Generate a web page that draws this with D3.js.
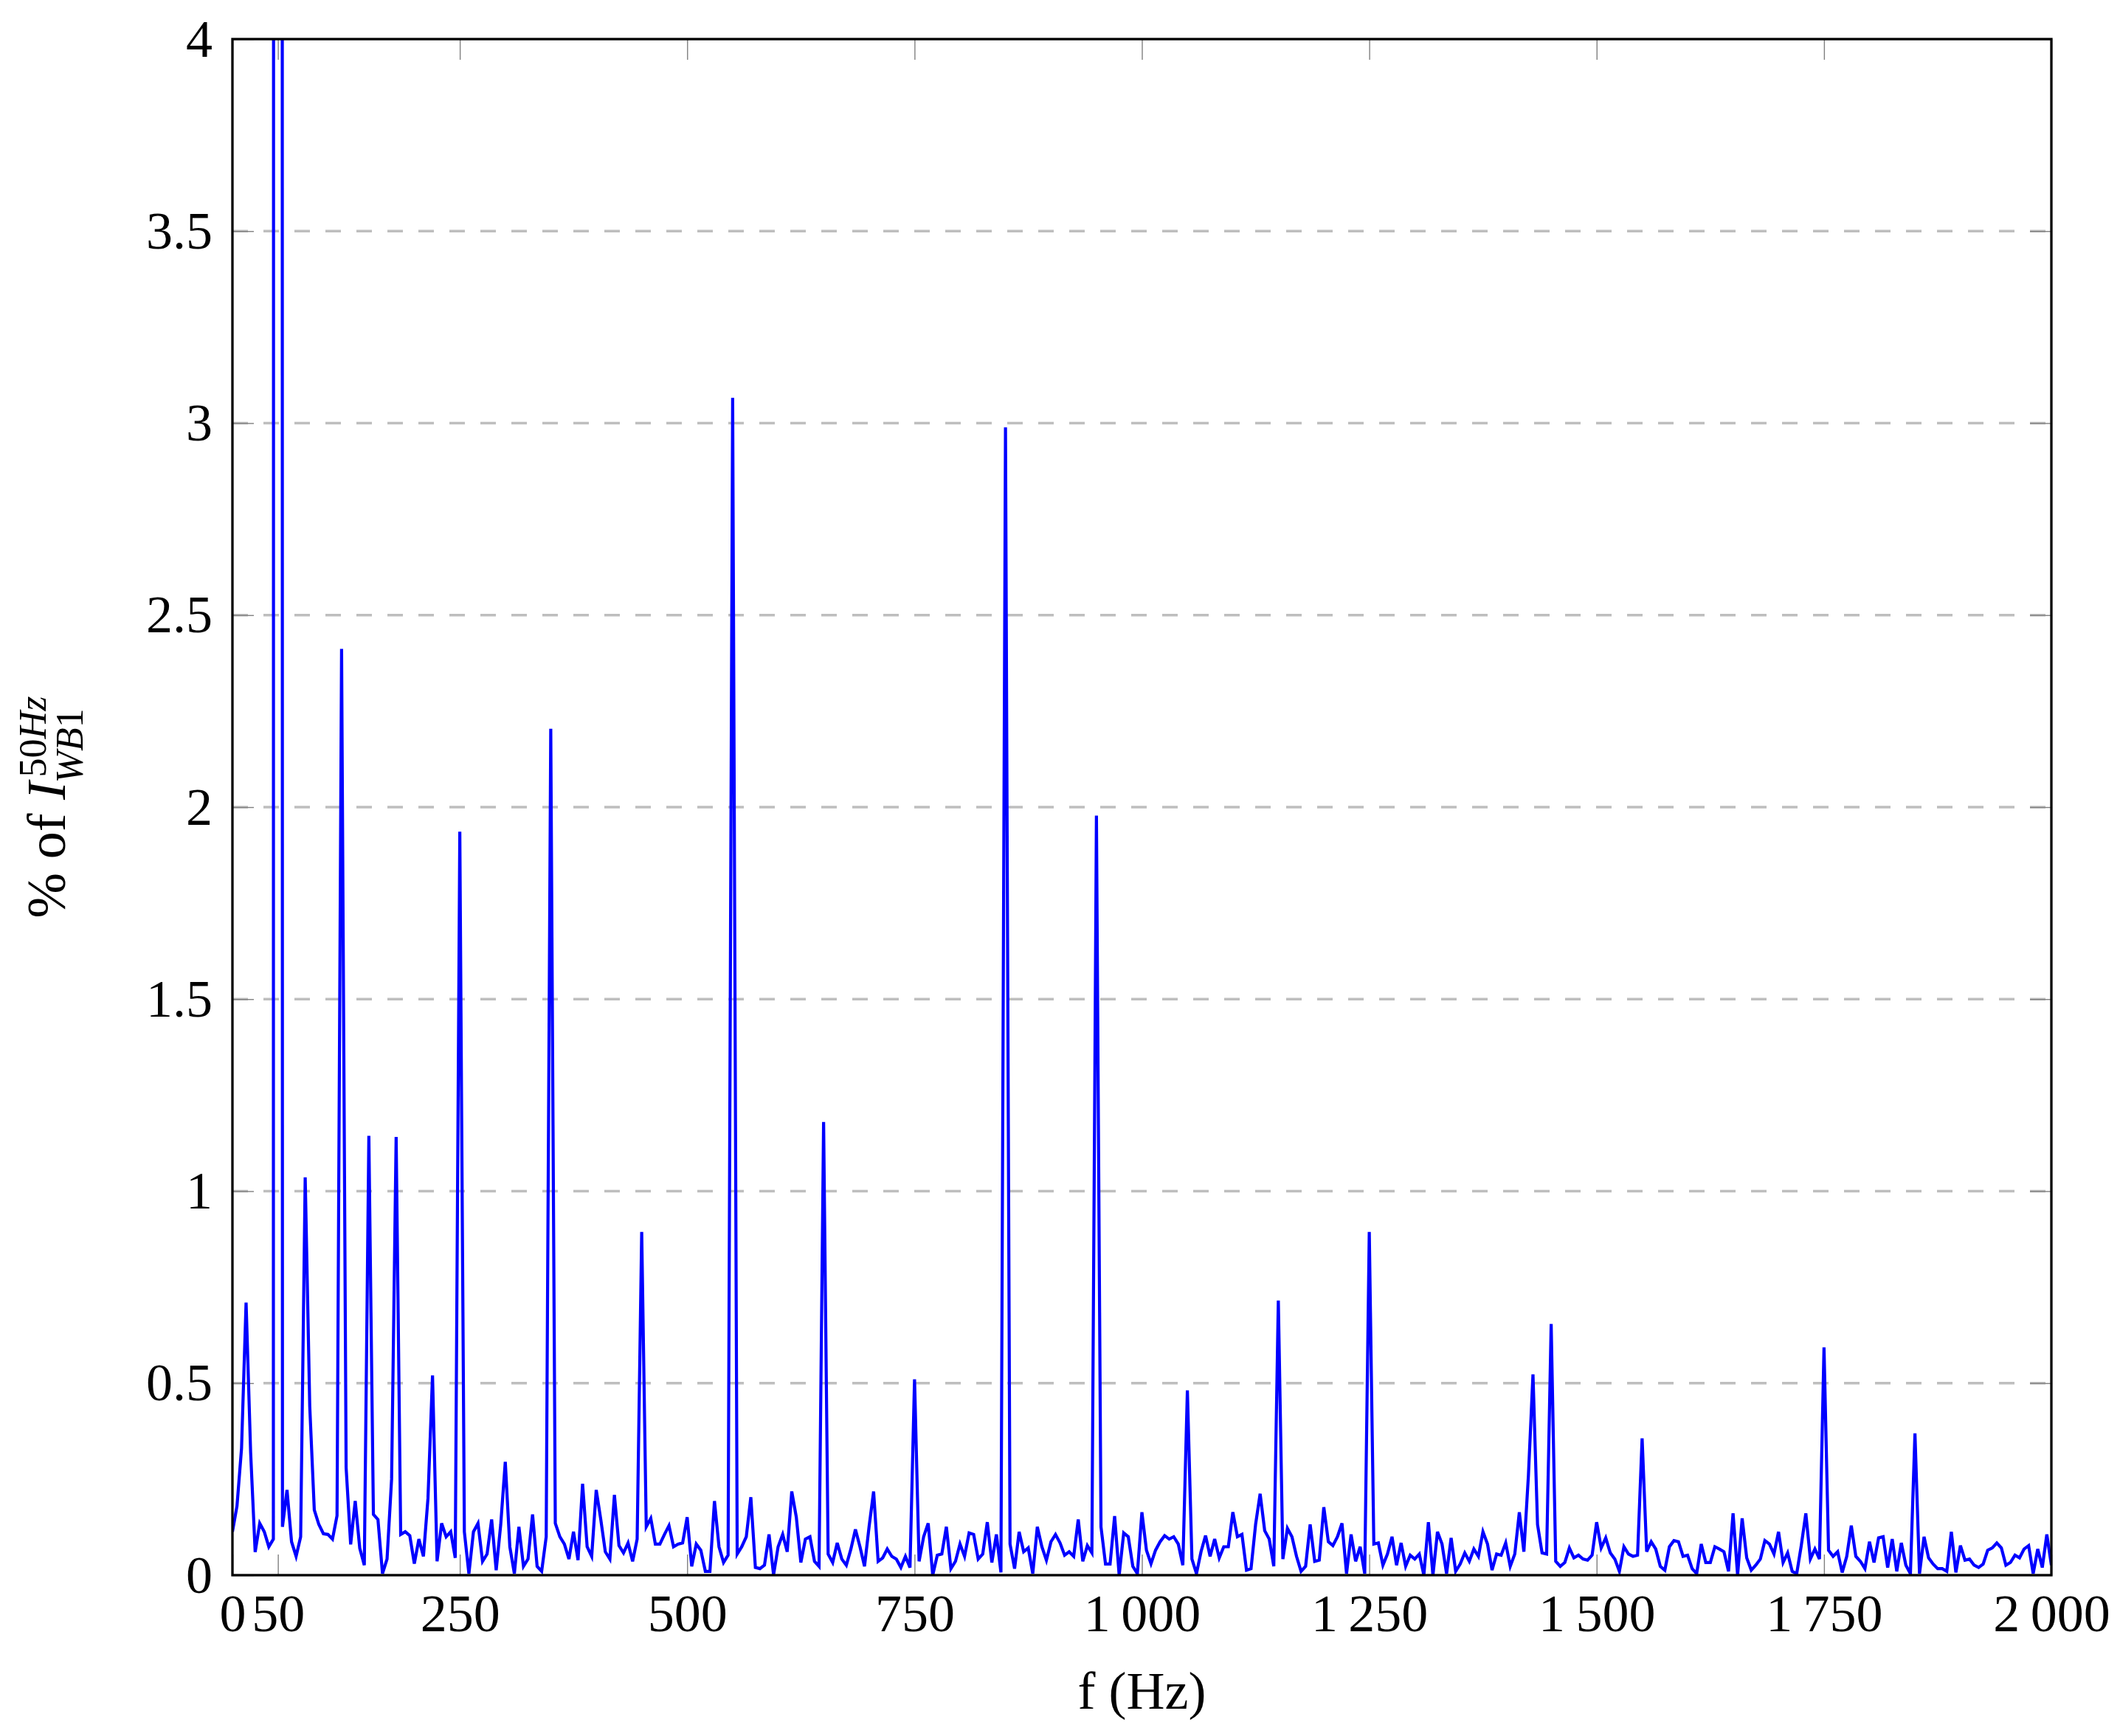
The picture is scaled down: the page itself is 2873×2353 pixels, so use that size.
<!DOCTYPE html>
<html><head><meta charset="utf-8">
<script src="https://cdn.jsdelivr.net/npm/d3@7"></script>
<style>
html,body{margin:0;padding:0;background:#fff;}
svg{display:block;}
text{font-family:"Liberation Serif","Times New Roman",serif;fill:#000;}
</style></head><body>
<svg id="chart" width="2873" height="2353"></svg>
<script>
// ---- data ----
const freqStep = 5; // Hz between samples, starting at 0 Hz
const amplitude = [
0.113,0.18,0.33,0.71,0.32,0.06,0.135,0.113,0.074,0.094, 100,0.126,0.222,0.087,0.049,0.1,1.036,0.44,0.17,0.132,
0.108,0.106,0.094,0.155,2.412,0.28,0.08,0.193,0.07,0.026, 1.144,0.158,0.145,0.004,0.042,0.25,1.141,0.106,0.113,0.103,
0.03,0.094,0.049,0.2,0.52,0.036,0.135,0.1,0.113,0.045, 1.936,0.113,0.004,0.113,0.135,0.036,0.055,0.145,0.013,0.132,
0.295,0.074,0.004,0.126,0.023,0.042,0.158,0.023,0.01,0.1, 2.204,0.135,0.1,0.081,0.042,0.113,0.039,0.238,0.074,0.049,
0.222,0.145,0.061,0.042,0.209,0.077,0.058,0.084,0.036,0.094, 0.894,0.126,0.148,0.081,0.081,0.106,0.129,0.074,0.081,0.084,
0.151,0.023,0.081,0.065,0.01,0.01,0.193,0.074,0.033,0.052, 3.066,0.055,0.074,0.1,0.203,0.02,0.017,0.026,0.106,0.001,
0.074,0.106,0.061,0.218,0.151,0.033,0.094,0.1,0.036,0.023, 1.18,0.055,0.033,0.084,0.042,0.026,0.068,0.119,0.074,0.023,
0.126,0.218,0.036,0.045,0.068,0.049,0.042,0.02,0.049,0.02, 0.51,0.036,0.1,0.135,0.0,0.052,0.055,0.126,0.017,0.036,
0.081,0.049,0.11,0.106,0.042,0.055,0.138,0.033,0.106,0.007, 2.989,0.081,0.017,0.113,0.061,0.071,0.004,0.126,0.074,0.039,
0.087,0.106,0.084,0.052,0.061,0.049,0.145,0.036,0.077,0.058, 1.978,0.126,0.029,0.029,0.154,0.0,0.11,0.1,0.023,0.004,
0.164,0.065,0.03,0.065,0.087,0.103,0.094,0.1,0.081,0.026, 0.481,0.042,0.004,0.061,0.103,0.049,0.094,0.045,0.074,0.074,
0.164,0.1,0.106,0.013,0.017,0.132,0.212,0.116,0.094,0.023, 0.715,0.042,0.122,0.1,0.049,0.01,0.023,0.132,0.036,0.039,
0.177,0.087,0.077,0.1,0.135,0.004,0.106,0.036,0.074,0.004, 0.894,0.081,0.084,0.026,0.055,0.1,0.026,0.084,0.023,0.052,
0.042,0.055,0.0,0.138,0.0,0.113,0.081,0.004,0.097,0.01, 0.029,0.058,0.036,0.068,0.049,0.113,0.081,0.013,0.055,0.052,
0.084,0.023,0.055,0.164,0.061,0.26,0.523,0.132,0.058,0.055, 0.654,0.036,0.023,0.033,0.071,0.045,0.052,0.042,0.039,0.052,
0.138,0.071,0.097,0.058,0.042,0.01,0.074,0.055,0.049,0.052, 0.356,0.061,0.087,0.068,0.023,0.013,0.074,0.09,0.087,0.049,
0.052,0.017,0.004,0.081,0.033,0.033,0.074,0.068,0.061,0.01, 0.161,0.0,0.148,0.045,0.013,0.026,0.042,0.09,0.081,0.055,
0.113,0.033,0.058,0.01,0.004,0.077,0.161,0.042,0.068,0.042, 0.593,0.065,0.049,0.061,0.007,0.049,0.129,0.049,0.036,0.017,
0.087,0.033,0.097,0.1,0.02,0.094,0.01,0.084,0.026,0.004, 0.369,0.004,0.1,0.045,0.029,0.017,0.017,0.01,0.113,0.007,
0.077,0.039,0.042,0.026,0.02,0.029,0.065,0.071,0.084,0.071, 0.026,0.033,0.052,0.045,0.068,0.077,0.004,0.068,0.02,0.106,
0.026
];
const xTickValues = [0, 50, 250, 500, 750, 1000, 1250, 1500, 1750, 2000];
const yTickValues = [0, 0.5, 1, 1.5, 2, 2.5, 3, 3.5, 4];
const yGridValues = [0.5, 1, 1.5, 2, 2.5, 3, 3.5];
const xDomain = [0, 2000];
const yDomain = [0, 4];
const xLabelText = "f (Hz)";

// ---- layout ----
const box = {left: 315, right: 2780, top: 53, bottom: 2135};
const svg = d3.select("#chart");
const x = d3.scaleLinear().domain(xDomain).range([box.left, box.right]);
const y = d3.scaleLinear().domain(yDomain).range([box.bottom, box.top]);
const series = amplitude.map((v, i) => ({f: i * freqStep, v}));

svg.append("rect").attr("width", 2873).attr("height", 2353).attr("fill", "#fff");

svg.append("defs").append("clipPath").attr("id", "plotclip")
  .append("rect").attr("x", box.left).attr("y", box.top)
  .attr("width", box.right - box.left).attr("height", box.bottom - box.top);

// grid
svg.append("g").selectAll("line").data(yGridValues).join("line")
  .attr("x1", box.left).attr("x2", box.right)
  .attr("y1", d => y(d)).attr("y2", d => y(d))
  .attr("stroke", "#bebebe").attr("stroke-width", 3.6)
  .attr("stroke-dasharray", "21 21");

// ticks (inside, gray)
const fmtX = d => d >= 1000 ? Math.floor(d / 1000) + "\u2009" + String(d % 1000).padStart(3, "0") : String(d);
const styleAxis = g => {
  g.select(".domain").remove();
  g.selectAll(".tick line").attr("stroke", "#808080").attr("stroke-width", 1.4);
  g.selectAll(".tick text").attr("font-size", 72).attr("font-family", '"Liberation Serif", serif').attr("fill", "#000");
};
svg.append("g").attr("transform", `translate(0,${box.bottom})`)
  .call(d3.axisBottom(x).tickValues(xTickValues).tickFormat(fmtX).tickSizeInner(-28).tickSizeOuter(0).tickPadding(25))
  .call(styleAxis);
svg.append("g").attr("transform", `translate(0,${box.top})`)
  .call(d3.axisTop(x).tickValues(xTickValues).tickFormat("").tickSizeInner(-28).tickSizeOuter(0))
  .call(styleAxis);
svg.append("g").attr("transform", `translate(${box.left},0)`)
  .call(d3.axisLeft(y).tickValues(yTickValues).tickFormat(d => String(d)).tickSizeInner(-29).tickSizeOuter(0).tickPadding(27))
  .call(styleAxis);
svg.append("g").attr("transform", `translate(${box.right},0)`)
  .call(d3.axisRight(y).tickValues(yTickValues).tickFormat("").tickSizeInner(-29).tickSizeOuter(0))
  .call(styleAxis);

// series
svg.append("path").datum(series)
  .attr("clip-path", "url(#plotclip)")
  .attr("fill", "none").attr("stroke", "#0000ff").attr("stroke-width", 4.2)
  .attr("stroke-linejoin", "miter").attr("stroke-miterlimit", 4)
  .attr("d", d3.line().x(d => x(d.f)).y(d => y(d.v)));

// border
svg.append("rect").attr("x", box.left).attr("y", box.top)
  .attr("width", box.right - box.left).attr("height", box.bottom - box.top)
  .attr("fill", "none").attr("stroke", "#000").attr("stroke-width", 3.3);

// x label
svg.append("text").attr("x", (box.left + box.right) / 2).attr("y", 2316)
  .attr("text-anchor", "middle").attr("font-size", 72).text(xLabelText);

// y label: % of I^{50Hz}_{WB1}
const gl = svg.append("g").attr("transform", `translate(88,${(box.top + box.bottom) / 2}) rotate(-90)`);
const mainT = gl.append("text").attr("font-size", 74).attr("y", 0);
mainT.append("tspan").text("% of ");
mainT.append("tspan").attr("font-style", "italic").text("I");
const supT = gl.append("text").attr("font-size", 52).attr("y", -26);
supT.append("tspan").text("50");
supT.append("tspan").attr("font-style", "italic").text("Hz");
const subT = gl.append("text").attr("font-size", 52).attr("y", 24);
subT.append("tspan").attr("font-style", "italic").text("WB");
subT.append("tspan").text("1");
const L1 = mainT.node().getComputedTextLength();
const L2 = supT.node().getComputedTextLength();
const L3 = subT.node().getComputedTextLength();
const total = L1 + 6 + Math.max(L2, L3);
const sx = -total / 2;
mainT.attr("x", sx);
supT.attr("x", sx + L1 + 6);
subT.attr("x", sx + L1 - 2);
</script>
</body></html>
